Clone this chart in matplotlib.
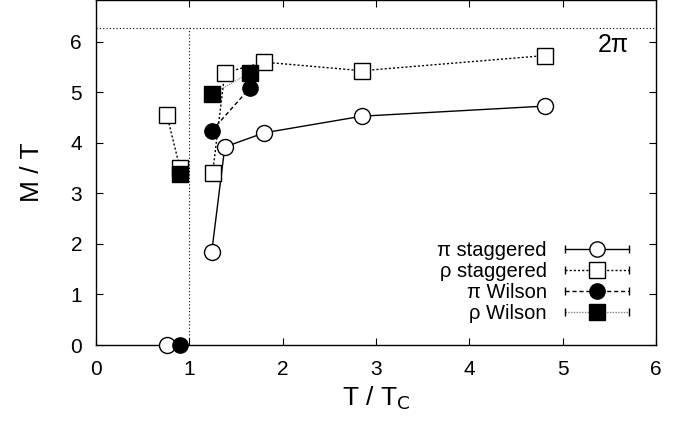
import numpy as np
import matplotlib
matplotlib.use('Agg')
import matplotlib.pyplot as plt
from matplotlib.lines import Line2D
from matplotlib.legend_handler import HandlerLine2D

plt.rcParams['font.family'] = ['Liberation Sans', 'DejaVu Sans']

# pi staggered (above Tc) and its zero point below Tc
pi_st_x = [1.24, 1.38, 1.80, 2.85, 4.81]
pi_st_y = [1.84, 3.92, 4.20, 4.53, 4.73]
pi_st_err = [0.05, 0.06, 0.04, 0.04, 0.04]
pi_st_low_x = [0.76]
pi_st_low_y = [0.0]

# rho staggered, below and above Tc
rho_st_low_x = [0.76, 0.90]
rho_st_low_y = [4.55, 3.50]
rho_st_x = [1.25, 1.38, 1.80, 2.85, 4.81]
rho_st_y = [3.41, 5.39, 5.60, 5.43, 5.73]
rho_st_err = [0.10, 0.12, 0.08, 0.08, 0.10]

# pi Wilson
pi_w_low_x = [0.90]
pi_w_low_y = [0.0]
pi_w_x = [1.24, 1.65]
pi_w_y = [4.24, 5.09]

# rho Wilson
rho_w_low_x = [0.90]
rho_w_low_y = [3.38]
rho_w_x = [1.24, 1.65]
rho_w_y = [4.96, 5.39]

two_pi = 2 * np.pi

fig = plt.figure(figsize=(6.87, 4.21), dpi=100)
ax = fig.add_axes([0.1397, 0.1805, 0.8153, 0.8195])

# reference lines
ax.axhline(two_pi, color='black', lw=0.8, ls=(0, (1, 2)))
ax.vlines(1, 0, two_pi, color='black', lw=0.8, ls=(0, (1, 2)))

# pi staggered
ax.errorbar(pi_st_x, pi_st_y, yerr=pi_st_err, fmt='o-', color='black', mfc='white',
            ms=11.5, lw=1.0, capsize=2, elinewidth=0.8, zorder=3)
ax.plot(pi_st_low_x, pi_st_low_y, 'o', color='black', mfc='white', ms=11.5, zorder=3,
        clip_on=False)

# rho staggered
ax.errorbar(rho_st_x, rho_st_y, yerr=rho_st_err, fmt='s', ls=(0, (1.5, 1.5)), color='black',
            mfc='white', ms=11, lw=1.0, capsize=2, elinewidth=0.6, zorder=3)
ax.errorbar(rho_st_low_x, rho_st_low_y, yerr=[0.1, 0.1], fmt='s', ls=(0, (1.5, 1.5)),
            color='black', mfc='white', ms=11, lw=1.0, capsize=2, elinewidth=0.6, zorder=3)

# pi Wilson
ax.plot(pi_w_x, pi_w_y, 'o', ls=(0, (3, 2)), color='black', ms=11, lw=1.0, zorder=4)
ax.plot(pi_w_low_x, pi_w_low_y, 'o', color='black', ms=11, zorder=4, clip_on=False)

# rho Wilson
ax.plot(rho_w_x, rho_w_y, 's', ls=(0, (1, 1)), color='gray', mfc='black', mec='black',
        ms=11, lw=0.8, zorder=4)
ax.plot(rho_w_low_x, rho_w_low_y, 's', color='black', ms=11, zorder=4)

ax.text(5.54, 5.94, '2π', fontsize=18, ha='center', va='center')

ax.set_xlim(0, 6)
ax.set_ylim(0, 6.83)
ax.set_xticks(range(0, 7))
ax.set_yticks(range(0, 7))
ax.tick_params(direction='in', top=True, right=True, labelsize=15, length=5)
ax.tick_params(axis='x', pad=11)
ax.tick_params(axis='y', pad=10)
ax.set_xlabel(r'T / T$_\mathrm{C}$', fontsize=19, labelpad=4)
ax.set_ylabel('M / T', fontsize=19, labelpad=19)
for s in ax.spines.values():
    s.set_linewidth(1.0)

# legend with gnuplot-like horizontal error bars
styles = [
    ('π staggered', 'o', 'white', '-', 'black'),
    ('ρ staggered', 's', 'white', (0, (1.5, 1.5)), 'black'),
    ('π Wilson', 'o', 'black', (0, (3, 2)), 'black'),
    ('ρ Wilson', 's', 'black', (0, (1, 1)), 'gray'),
]
handles, labels, hmap = [], [], {}
for lab, mk, fc, ls, lc in styles:
    cap = Line2D([], [], color=lc, ls=ls, lw=1.0, marker='|', ms=6, mec='black')
    mark = Line2D([], [], ls='none', marker=mk, mfc=fc, mec='black', ms=11)
    hmap[cap] = HandlerLine2D(numpoints=2)
    handles.append((cap, mark))
    labels.append(lab)
ax.legend(handles, labels, handler_map=hmap, loc='lower right', bbox_to_anchor=(0.977, 0.04),
          frameon=False, markerfirst=False, fontsize=14.5, handlelength=3.8,
          labelspacing=0.1, handletextpad=0.6, borderaxespad=0)

fig.savefig('out.png', dpi=100)
